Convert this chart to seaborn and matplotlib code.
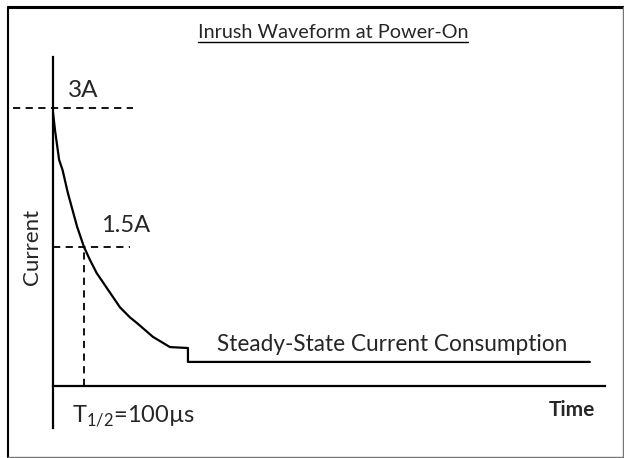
"""
plot.py
Inrush current waveform sketch at power-on
"""

import pandas as pd
import matplotlib.pyplot as plt
from matplotlib.lines import Line2D
import seaborn as sns

# curve (time in us, current in A)
time_us = [0, 8, 21, 32, 49, 78, 100, 119, 140, 192, 214, 246, 268, 319, 373, 430, 430, 1706]
current_a = [3.0, 2.76, 2.44, 2.33, 2.08, 1.72, 1.5, 1.36, 1.22, 0.96, 0.85, 0.74, 0.68, 0.53, 0.42, 0.41, 0.26, 0.26]

peak_a = 3.0
half_a = 1.5
half_time_us = 100

title = 'Inrush Waveform at Power-On'
peak_label = '3A'
half_label = '1.5A'
half_time_label = r'T$_{\mathregular{1/2}}$=100µs'
steady_label = 'Steady-State Current Consumption'

sns.set_theme(style='white')
plt.rcParams['font.family'] = ['Lato', 'DejaVu Sans']
plt.rcParams['mathtext.fontset'] = 'custom'
plt.rcParams['mathtext.rm'] = 'Lato'

df = pd.DataFrame({'time': time_us, 'current': current_a})

fig = plt.figure(figsize=(6.24, 4.58), dpi=100)
ax = fig.add_axes([52.5 / 624, 30 / 458, 552.5 / 624, 371 / 458])

sns.lineplot(data=df, x='time', y='current', estimator=None, sort=False,
             color='black', lw=1.6, ax=ax)

ax.set_xlim(0, 1754)
ax.set_ylim(-0.453, 3.55)
ax.set_xticks([])
ax.set_yticks([])
ax.set_xlabel('')
ax.set_ylabel('')
for side in ['top', 'right']:
    ax.spines[side].set_visible(False)
ax.spines['bottom'].set_position(('data', 0))
for side in ['left', 'bottom']:
    ax.spines[side].set_color('black')
    ax.spines[side].set_linewidth(1.6)

# dashed guides
dash = dict(color='black', lw=1.3, ls=(0, (4, 3)), clip_on=False)
ax.plot([-125, 256], [peak_a, peak_a], **dash)
ax.plot([0, 246], [half_a, half_a], **dash)
ax.plot([half_time_us, half_time_us], [0, half_a], **dash)

# labels
ax.text(49, 3.19, peak_label, fontsize=17.5, va='center', ha='left')
ax.text(154, 1.73, half_label, fontsize=17, va='center', ha='left')
ax.text(62, -0.33, half_time_label, fontsize=17, va='center', ha='left')
ax.text(522, 0.45, steady_label, fontsize=16.3, va='center', ha='left')
ax.text(1722, -0.26, 'Time', fontsize=15, fontweight='bold', va='center', ha='right')
ax.text(-65, 1.5, 'Current', fontsize=16, rotation=90, va='center', ha='center', clip_on=False)

ttl = fig.text(333 / 624, 1 - 32 / 458, title, fontsize=14.3, ha='center', va='center')

# outer frame
W, H = 624, 458
fig.add_artist(Line2D([8 / W, 623 / W], [1 - 6.5 / H, 1 - 6.5 / H], color='black', lw=2.2))
fig.add_artist(Line2D([8 / W, 8 / W], [1 - 6.5 / H, 1 - 457 / H], color='black', lw=1.5))
fig.add_artist(Line2D([623 / W, 623 / W], [1 - 6.5 / H, 1 - 457 / H], color='#777777', lw=1.0))
fig.add_artist(Line2D([8 / W, 623 / W], [1 - 457 / H, 1 - 457 / H], color='#777777', lw=1.0))

# underline the title
fig.canvas.draw()
bb = ttl.get_window_extent()
fig.add_artist(Line2D([bb.x0 / W, bb.x1 / W], [(bb.y0 - 1) / H, (bb.y0 - 1) / H],
                      color='black', lw=1.0))

fig.savefig('out.png', dpi=100)
